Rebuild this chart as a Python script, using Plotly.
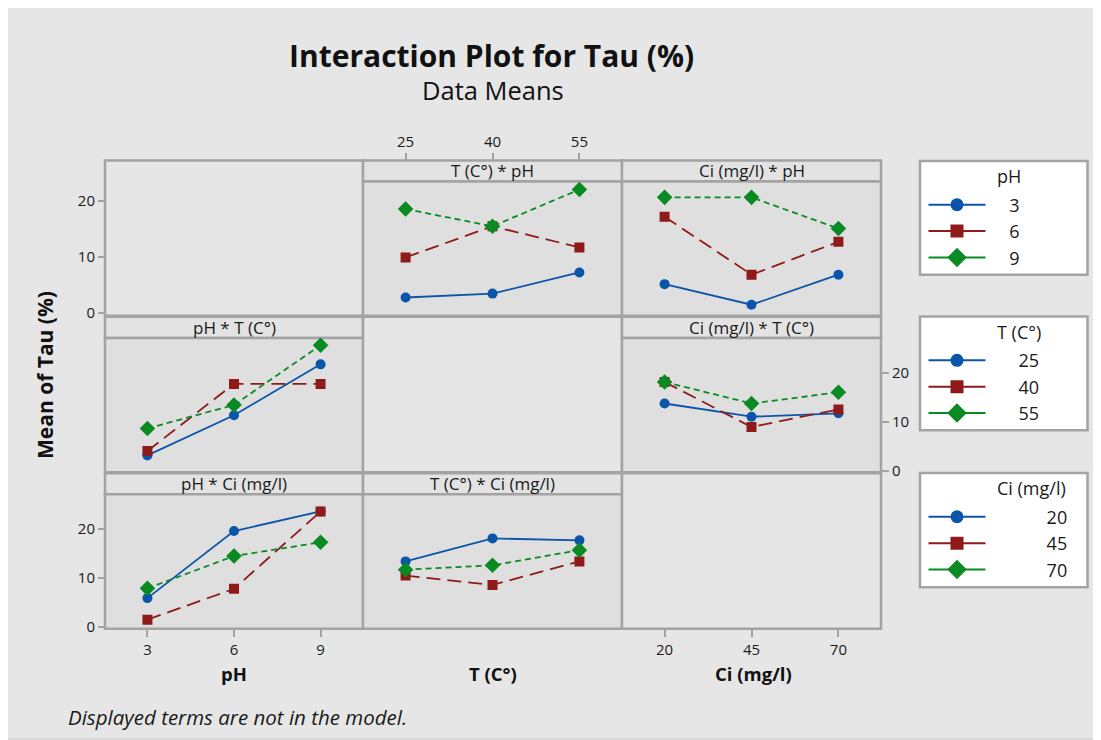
import plotly.graph_objects as go

# page body has an 8px margin; rendered plot height was measured ~722px
OFF = 8
W, H = 1101 - OFF, 740 - OFF
HR = 722
FONT = "Open Sans"

# ---------------- data ----------------
ph_levels = ["3", "6", "9"]
t_levels = ["25", "40", "55"]
ci_levels = ["20", "45", "70"]

# Row 1: T * pH  (x = T, lines = pH)
t_by_ph = {
    "3": [2.7, 3.4, 7.2],
    "6": [9.9, 15.5, 11.7],
    "9": [18.6, 15.5, 22.1],
}
# Row 1: Ci * pH (x = Ci, lines = pH)
ci_by_ph = {
    "3": [5.1, 1.4, 6.8],
    "6": [17.2, 6.8, 12.7],
    "9": [20.7, 20.7, 15.1],
}
# Row 2: pH * T (x = pH, lines = T)
ph_by_t = {
    "25": [3.1, 11.3, 21.7],
    "40": [4.0, 17.7, 17.7],
    "55": [8.6, 13.4, 25.6],
}
# Row 2: Ci * T (x = Ci, lines = T)
ci_by_t = {
    "25": [13.7, 11.0, 11.7],
    "40": [18.1, 8.9, 12.5],
    "55": [18.1, 13.7, 16.0],
}
# Row 3: pH * Ci (x = pH, lines = Ci)
ph_by_ci = {
    "20": [5.9, 19.6, 23.6],
    "45": [1.5, 7.8, 23.6],
    "70": [7.9, 14.5, 17.3],
}
# Row 3: T * Ci (x = T, lines = Ci)
t_by_ci = {
    "20": [13.4, 18.1, 17.7],
    "45": [10.5, 8.6, 13.4],
    "70": [11.7, 12.6, 15.7],
}

y_ticks = [0, 10, 20]

# ---------------- styles ----------------
COLORS = ["#0a55aa", "#8e1a1a", "#0a8a22"]
SYMBOLS = ["circle", "square", "diamond"]
DASHES = ["solid", "14px,7px", "6px,4px"]
BORDER = "#a3a3a3"
BG = "#e6e6e6"
PANEL_BG = "#dfdfdf"
STRIP_BG = "#e3e3e3"
TXT = "#1a1a1a"


def fx(px):
    return (px - OFF) / W


def fy(py):
    return 1 - (py - OFF) / HR


COLS = [(105, 363), (363, 622), (622, 881)]
ROWS = [(181, 315), (337, 471), (493, 627)]
STRIPS = [(160, 181), (316, 337), (472, 493)]

fig = go.Figure()

# legend label padding (nbsp) per legend to place numbers like the original
PAD = {"legend": 4, "legend2": 6, "legend3": 12}


def add_panel(row, col, series, levels):
    xa = "x" if col == 0 else f"x{col + 1}"
    ya = "y" if row == 0 else f"y{row + 1}"
    for i, lev in enumerate(levels):
        fig.add_trace(go.Scatter(
            x=[0, 1, 2], y=series[lev],
            xaxis=xa, yaxis=ya,
            mode="lines+markers",
            name=lev,
            showlegend=False,
            line=dict(color=COLORS[i], width=1.8, dash=DASHES[i]),
            marker=dict(color=COLORS[i], symbol=SYMBOLS[i],
                        size=12 if i == 2 else 10),
        ))


def add_legend(levels, legend_name):
    # legend entries (solid lines, as in the original legend boxes)
    for i, lev in enumerate(levels):
        fig.add_trace(go.Scatter(
            x=[None], y=[None], mode="lines+markers",
            name="\u00a0" * PAD[legend_name] + lev,
            legend=legend_name, legendgroup=legend_name + lev,
            showlegend=True, hoverinfo="skip",
            line=dict(color=COLORS[i], width=2),
            marker=dict(color=COLORS[i], symbol=SYMBOLS[i],
                        size=15 if i == 2 else 13),
        ))


add_panel(0, 1, t_by_ph, ph_levels)
add_panel(0, 2, ci_by_ph, ph_levels)
add_panel(1, 0, ph_by_t, t_levels)
add_panel(1, 2, ci_by_t, t_levels)
add_panel(2, 0, ph_by_ci, ci_levels)
add_panel(2, 1, t_by_ci, ci_levels)
add_legend(ph_levels, "legend")
add_legend(t_levels, "legend2")
add_legend(ci_levels, "legend3")

tickfont = dict(family=FONT, size=15, color=TXT)
x_common = dict(range=[-0.49, 2.49], tickvals=[0, 1, 2], showgrid=False,
                zeroline=False, showline=False, ticks="outside", ticklen=7,
                tickcolor=BORDER, tickwidth=1.5, tickfont=tickfont, anchor="free",
                fixedrange=True)
y_common = dict(tickvals=y_ticks, showgrid=False, zeroline=False, showline=False,
                ticks="outside", ticklen=7, tickcolor=BORDER, tickwidth=1.5,
                tickfont=tickfont, anchor="free", fixedrange=True)

layout = dict(
    width=W, height=H,
    margin=dict(l=0, r=0, t=0, b=0),
    paper_bgcolor="white",
    plot_bgcolor="rgba(0,0,0,0)",
    font=dict(family=FONT, color=TXT),
    xaxis=dict(x_common, domain=[fx(COLS[0][0]), fx(COLS[0][1])],
               ticktext=ph_levels, side="bottom", position=fy(627)),
    xaxis2=dict(x_common, domain=[fx(COLS[1][0]), fx(COLS[1][1])],
                ticktext=t_levels, side="top", position=fy(160)),
    xaxis3=dict(x_common, domain=[fx(COLS[2][0]), fx(COLS[2][1])],
                ticktext=ci_levels, side="bottom", position=fy(627)),
    yaxis=dict(y_common, domain=[fy(ROWS[0][1]), fy(ROWS[0][0])],
               range=[-0.6, 23.55], side="left", position=fx(105)),
    yaxis2=dict(y_common, domain=[fy(ROWS[1][1]), fy(ROWS[1][0])],
                range=[-0.35, 27.1], side="right", position=fx(881)),
    yaxis3=dict(y_common, domain=[fy(ROWS[2][1]), fy(ROWS[2][0])],
                range=[-0.35, 27.1], side="left", position=fx(105)),
    showlegend=True,
)

shapes = []
# outer background frame
shapes.append(dict(type="rect", xref="paper", yref="paper",
                   x0=fx(7), x1=fx(1097), y0=fy(737), y1=fy(6),
                   fillcolor=BG, line=dict(color="#cfcfcf", width=1.5),
                   layer="below"))

strip_titles = {
    (0, 1): "T (C°) * pH",
    (0, 2): "Ci (mg/l) * pH",
    (1, 0): "pH * T (C°)",
    (1, 2): "Ci (mg/l) * T (C°)",
    (2, 0): "pH * Ci (mg/l)",
    (2, 1): "T (C°) * Ci (mg/l)",
}

annotations = []
for r in range(3):
    for c in range(3):
        x0, x1 = COLS[c]
        if r == c:
            shapes.append(dict(type="rect", xref="paper", yref="paper",
                               x0=fx(x0), x1=fx(x1), y0=fy(ROWS[r][1]), y1=fy(STRIPS[r][0]),
                               fillcolor=BG, line=dict(color=BORDER, width=2.5),
                               layer="below"))
        else:
            shapes.append(dict(type="rect", xref="paper", yref="paper",
                               x0=fx(x0), x1=fx(x1), y0=fy(STRIPS[r][1]), y1=fy(STRIPS[r][0]),
                               fillcolor=STRIP_BG, line=dict(color=BORDER, width=2.5),
                               layer="below"))
            shapes.append(dict(type="rect", xref="paper", yref="paper",
                               x0=fx(x0), x1=fx(x1), y0=fy(ROWS[r][1]), y1=fy(ROWS[r][0]),
                               fillcolor=PANEL_BG, line=dict(color=BORDER, width=2.5),
                               layer="below"))
            annotations.append(dict(
                text=strip_titles[(r, c)], xref="paper", yref="paper",
                x=fx((x0 + x1) / 2), y=fy((STRIPS[r][0] + STRIPS[r][1]) / 2),
                xanchor="center", yanchor="middle", showarrow=False,
                font=dict(family=FONT, size=17, color=TXT)))

# legend boxes (white with grey border) + titles
LEG_BOXES = [(160.5, 274), (315.7, 429), (471.7, 585.7)]
LEG_TITLES = ["pH", "T (C°)", "Ci (mg/l)"]
LEG_NAMES = ["legend", "legend2", "legend3"]
for (t0, t1), ttl in zip(LEG_BOXES, LEG_TITLES):
    shapes.append(dict(type="rect", xref="paper", yref="paper",
                       x0=fx(920), x1=fx(1087.5), y0=fy(t1), y1=fy(t0),
                       fillcolor="white", line=dict(color=BORDER, width=2.5),
                       layer="below"))
    annotations.append(dict(text=ttl, xref="paper", yref="paper",
                            x=fx(995), y=fy(t0 + 15), xanchor="left", yanchor="middle",
                            showarrow=False, font=dict(family=FONT, size=18, color=TXT)))

# titles
annotations += [
    dict(text="<b>Interaction Plot for Tau (%)</b>", xref="paper", yref="paper",
         x=fx(491), y=fy(55), xanchor="center", yanchor="middle", showarrow=False,
         font=dict(family=FONT, size=30, color="#111111")),
    dict(text="Data Means", xref="paper", yref="paper",
         x=fx(493), y=fy(90), xanchor="center", yanchor="middle", showarrow=False,
         font=dict(family=FONT, size=25.5, color="#111111")),
    dict(text="<b>Mean of Tau (%)</b>", xref="paper", yref="paper",
         x=fx(45), y=fy(374), xanchor="center", yanchor="middle", showarrow=False,
         textangle=-90, font=dict(family=FONT, size=21, color="#111111")),
    dict(text="<b>pH</b>", xref="paper", yref="paper",
         x=fx(234), y=fy(672), xanchor="center", yanchor="middle", showarrow=False,
         font=dict(family=FONT, size=18.5, color="#111111")),
    dict(text="<b>T (C°)</b>", xref="paper", yref="paper",
         x=fx(493), y=fy(672), xanchor="center", yanchor="middle", showarrow=False,
         font=dict(family=FONT, size=18.5, color="#111111")),
    dict(text="<b>Ci (mg/l)</b>", xref="paper", yref="paper",
         x=fx(753), y=fy(672), xanchor="center", yanchor="middle", showarrow=False,
         font=dict(family=FONT, size=18.5, color="#111111")),
    dict(text="<i>Displayed terms are not in the model.</i>", xref="paper", yref="paper",
         x=fx(66), y=fy(715), xanchor="left", yanchor="middle", showarrow=False,
         font=dict(family=FONT, size=20.5, color=TXT)),
]

layout["shapes"] = shapes
layout["annotations"] = annotations

leg_common = dict(bgcolor="rgba(0,0,0,0)", borderwidth=0,
                  xanchor="left", yanchor="top", x=fx(923.5),
                  font=dict(family=FONT, size=18, color=TXT),
                  itemwidth=57, tracegroupgap=0)
for (t0, t1), nm in zip(LEG_BOXES, LEG_NAMES):
    layout[nm] = dict(leg_common, y=fy(t0 + 42 - 16.5))

fig.update_layout(**layout)
fig.write_html("out.html")
